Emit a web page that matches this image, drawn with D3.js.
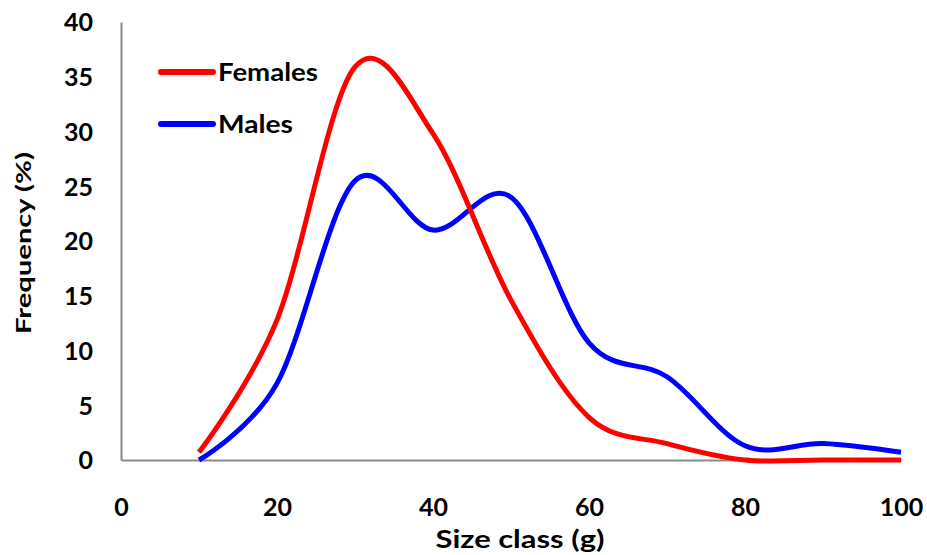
<!DOCTYPE html>
<html>
<head>
<meta charset="utf-8">
<script src="https://cdn.jsdelivr.net/npm/d3@7"></script>
<style>
  body { margin: 0; background: #fff; }
  text { font-family: Lato, "Open Sans", sans-serif; font-weight: bold; fill: #000; }
</style>
</head>
<body>
<div id="chart"></div>
<script>
// Data
var sizeClass = [10, 20, 30, 40, 50, 60, 70, 80, 90, 100];
var females = [0.7, 12.8, 35.9, 29.8, 14.6, 3.9, 1.5, 0.0, 0.0, 0.0];
var males   = [0.0, 7.0, 25.5, 21.0, 24.0, 10.7, 7.6, 1.3, 1.5, 0.7];
var xTicks = [0, 20, 40, 60, 80, 100];
var yTicks = [0, 5, 10, 15, 20, 25, 30, 35, 40];

var W = 927, H = 555;
var margin = {top: 22, right: 26, bottom: 95, left: 121},
    width = W - margin.left - margin.right,
    height = H - margin.top - margin.bottom;

var svg = d3.select("#chart")
    .append("svg")
        .attr("width", W)
        .attr("height", H)
    .append("g")
        .attr("transform", "translate(" + margin.left + "," + margin.top + ")");

var x = d3.scaleLinear().domain([0, 100]).range([0, width]);
var y = d3.scaleLinear().domain([0, 40]).range([height, 0]);

// Axes: just plain gray lines, labels without tick marks
var xAxis = svg.append("g")
    .attr("transform", "translate(0," + height + ")")
    .call(d3.axisBottom(x).tickValues(xTicks).tickSize(0).tickPadding(48));
var yAxis = svg.append("g")
    .call(d3.axisLeft(y).tickValues(yTicks).tickSize(0).tickPadding(28));

[xAxis, yAxis].forEach(function(a) {
    a.select(".domain").attr("stroke", "#898989").attr("stroke-width", 2);
    a.selectAll("text")
        .attr("font-family", "Lato, sans-serif")
        .attr("font-weight", "bold")
        .attr("font-size", 25)
        .attr("fill", "#000");
});
xAxis.selectAll("text").attr("dy", "0.3em");
yAxis.selectAll("text").attr("dy", "0.35em");

// Smoothed lines like Excel
var line = d3.line()
    .x(function(d, i) { return x(sizeClass[i]); })
    .y(function(d) { return y(d); })
    .curve(d3.curveCardinal.tension(0));

svg.append("path")
    .datum(males)
    .attr("fill", "none")
    .attr("stroke", "#0000ff")
    .attr("stroke-width", 5)
    .attr("d", line);

svg.append("path")
    .datum(females)
    .attr("fill", "none")
    .attr("stroke", "#ff0000")
    .attr("stroke-width", 5)
    .attr("d", line);

// Legend
var legend = svg.append("g").attr("transform", "translate(40,50)");
var items = [{name: "Females", color: "#ff0000", len: 100}, {name: "Males", color: "#0000ff", len: 75}];
items.forEach(function(d, i) {
    legend.append("line")
        .attr("x1", 0).attr("x2", 52)
        .attr("y1", i * 52).attr("y2", i * 52)
        .attr("stroke", d.color)
        .attr("stroke-width", 6)
        .attr("stroke-linecap", "round");
    legend.append("text")
        .attr("x", 57)
        .attr("y", i * 52)
        .attr("dy", "0.36em")
        .attr("font-size", 25)
        .attr("textLength", d.len)
        .attr("lengthAdjust", "spacingAndGlyphs")
        .text(d.name);
});

// Axis titles
svg.append("text")
    .attr("x", width / 2 + 9)
    .attr("y", height + 88)
    .attr("text-anchor", "middle")
    .attr("font-size", 25)
    .attr("textLength", 169)
    .attr("lengthAdjust", "spacingAndGlyphs")
    .text("Size class (g)");

svg.append("text")
    .attr("transform", "rotate(-90)")
    .attr("x", -(243 - margin.top))
    .attr("y", -margin.left + 31)
    .attr("text-anchor", "middle")
    .attr("font-size", 21)
    .attr("textLength", 182)
    .attr("lengthAdjust", "spacingAndGlyphs")
    .text("Frequency (%)");
</script>
</body>
</html>
